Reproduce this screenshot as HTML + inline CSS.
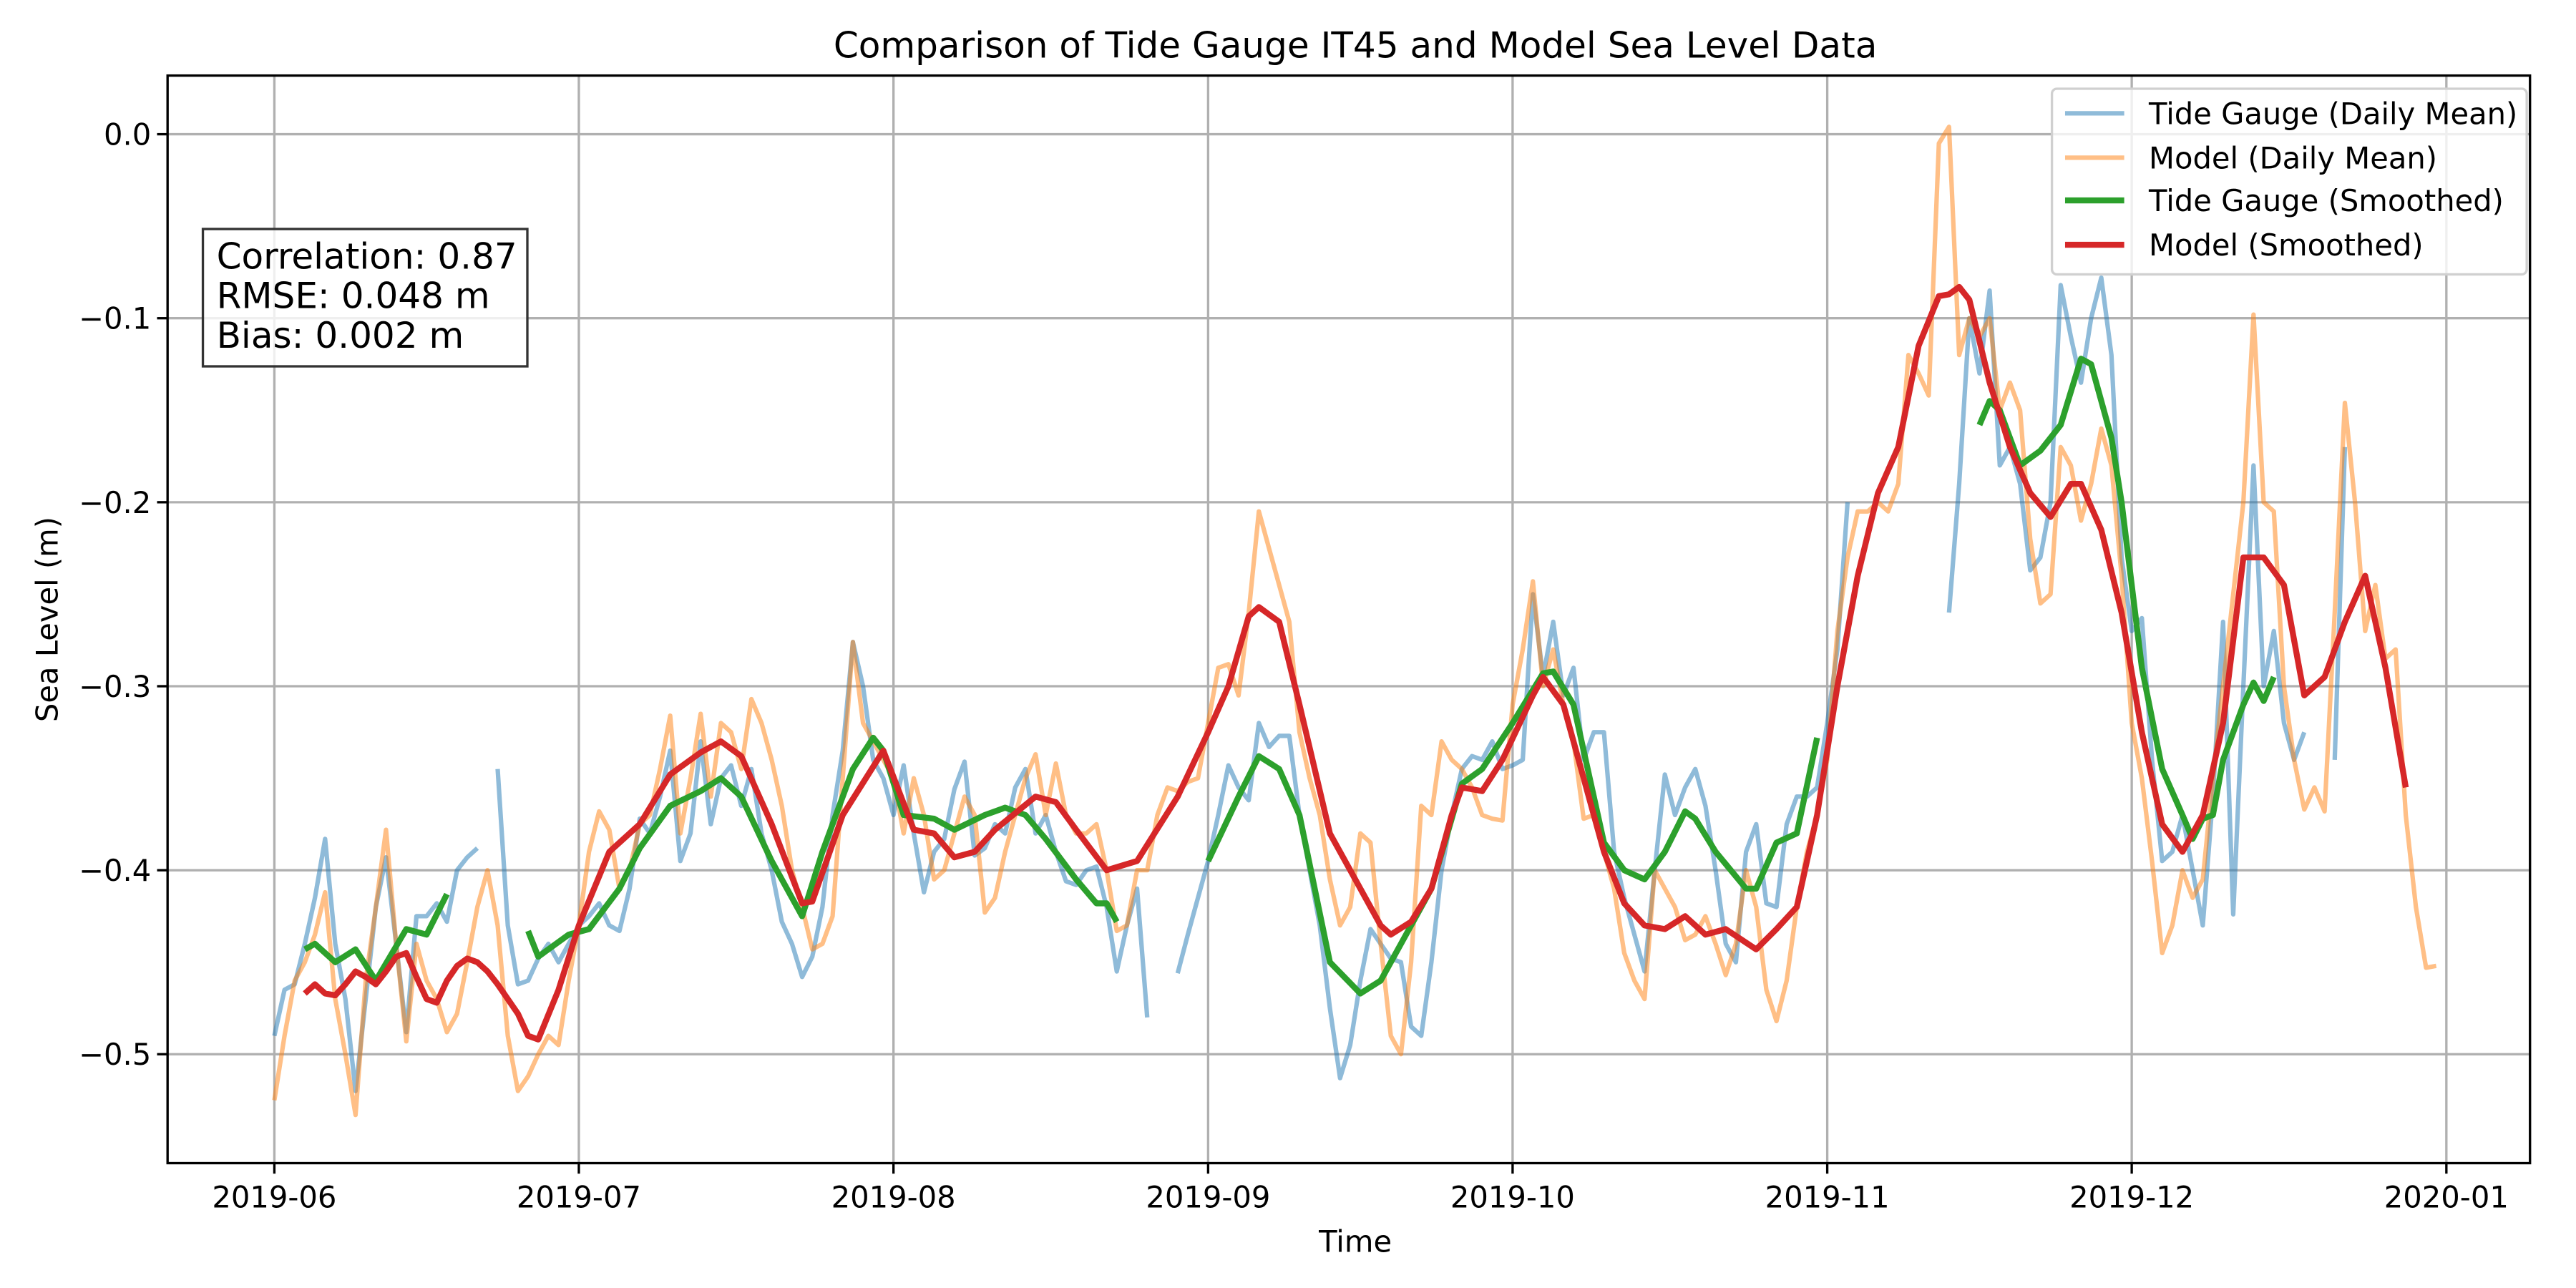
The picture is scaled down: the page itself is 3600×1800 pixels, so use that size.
<!DOCTYPE html>
<html><head><meta charset="utf-8"><title>Tide Gauge IT45 vs Model</title>
<style>html,body{margin:0;padding:0;background:#fff}svg{display:block}text{font-family:"DejaVu Sans","Liberation Sans",sans-serif;fill:#000}</style>
</head><body>
<svg id="chart" width="3600" height="1800" viewBox="0 0 1568 784" xmlns="http://www.w3.org/2000/svg">
<rect width="1568" height="784" fill="#fff"/>
<g id="grid"></g>
<g id="series"></g>
<rect x="102" y="46" width="1438" height="662" fill="none" stroke="#000" stroke-width="1.45"/>
<g id="ticks"></g>
<text x="825" y="35" font-size="21.8" text-anchor="middle">Comparison of Tide Gauge IT45 and Model Sea Level Data</text>
<text x="825" y="762" font-size="18.15" text-anchor="middle">Time</text>
<text x="0" y="0" font-size="18.15" text-anchor="middle" transform="translate(35,377) rotate(-90)">Sea Level (m)</text>
<g>
<rect x="123.5" y="139.4" width="197.5" height="83.6" fill="#fff" fill-opacity="0.8" stroke="#333" stroke-width="1.45"/>
<text x="131.8" y="163.5" font-size="21.8">Correlation: 0.87</text>
<text x="131.8" y="187.6" font-size="21.8">RMSE: 0.048 m</text>
<text x="131.8" y="211.6" font-size="21.8">Bias: 0.002 m</text>
</g>
<g>
<rect x="1249" y="54" width="289" height="113" rx="3" fill="#fff" fill-opacity="0.8" stroke="#d0d0d0" stroke-width="1.45"/>
<g><line x1="1257" y1="69" x2="1293" y2="69" stroke="#1f77b4" stroke-opacity="0.5" stroke-width="2.72"/><text x="1308" y="75.5" font-size="18.15">Tide Gauge (Daily Mean)</text></g>
<g><line x1="1257" y1="96" x2="1293" y2="96" stroke="#ff7f0e" stroke-opacity="0.5" stroke-width="2.72"/><text x="1308" y="102.5" font-size="18.15">Model (Daily Mean)</text></g>
<g><line x1="1257" y1="122" x2="1293" y2="122" stroke="#2ca02c" stroke-width="3.63"/><text x="1308" y="128.5" font-size="18.15">Tide Gauge (Smoothed)</text></g>
<g><line x1="1257" y1="149" x2="1293" y2="149" stroke="#d62728" stroke-width="3.63"/><text x="1308" y="155.5" font-size="18.15">Model (Smoothed)</text></g>
</g>
</svg>
<script>
// ---- data (day index 0 = 2019-06-01) ----
const xTickLabels = ["2019-06","2019-07","2019-08","2019-09","2019-10","2019-11","2019-12","2020-01"];
const xTickDays = [0,30,61,92,122,153,183,214];
const yTickValues = [0.0,-0.1,-0.2,-0.3,-0.4,-0.5];
const yTickLabels = ["0.0","\u22120.1","\u22120.2","\u22120.3","\u22120.4","\u22120.5"];

const tideDaily = [-0.49,-0.465,-0.462,-0.44,-0.415,-0.383,-0.44,-0.47,-0.52,-0.47,-0.42,-0.393,-0.44,-0.488,-0.425,-0.425,-0.418,-0.428,-0.40,-0.393,-0.388,
null,
-0.345,-0.43,-0.462,-0.46,-0.448,-0.44,-0.45,-0.44,-0.43,-0.425,-0.418,-0.43,-0.433,-0.41,-0.372,-0.38,-0.36,-0.335,-0.395,-0.38,-0.33,-0.375,-0.35,-0.343,-0.365,-0.345,-0.38,-0.40,-0.428,-0.44,-0.458,-0.447,-0.42,-0.37,-0.335,-0.276,-0.30,-0.34,-0.35,-0.37,-0.343,-0.38,-0.412,-0.39,-0.383,-0.356,-0.341,-0.392,-0.388,-0.375,-0.38,-0.355,-0.345,-0.38,-0.37,-0.39,-0.406,-0.408,-0.40,-0.398,-0.42,-0.455,-0.43,-0.41,-0.48,
null,null,
-0.456,-0.435,-0.415,-0.395,-0.37,-0.343,-0.355,-0.362,-0.32,-0.333,-0.327,-0.327,-0.37,-0.40,-0.43,-0.475,-0.513,-0.495,-0.46,-0.432,-0.44,-0.448,-0.45,-0.485,-0.49,-0.45,-0.40,-0.37,-0.345,-0.338,-0.34,-0.33,-0.345,-0.343,-0.34,-0.25,-0.295,-0.265,-0.305,-0.29,-0.34,-0.325,-0.325,-0.39,-0.415,-0.435,-0.455,-0.4,-0.348,-0.37,-0.355,-0.345,-0.365,-0.4,-0.44,-0.45,-0.39,-0.375,-0.418,-0.42,-0.375,-0.36,-0.36,-0.355,-0.32,-0.28,-0.2,
null,null,null,null,null,null,null,null,null,
-0.26,-0.19,-0.1,-0.13,-0.085,-0.18,-0.17,-0.19,-0.237,-0.23,-0.2,-0.082,-0.11,-0.135,-0.1,-0.078,-0.12,-0.23,-0.27,-0.263,-0.34,-0.395,-0.39,-0.37,-0.4,-0.43,-0.36,-0.265,-0.424,-0.3,-0.18,-0.3,-0.27,-0.32,-0.34,-0.325,
null,null,
-0.34,-0.17];

const modelDaily = [-0.525,-0.49,-0.46,-0.45,-0.435,-0.412,-0.47,-0.5,-0.533,-0.46,-0.42,-0.378,-0.44,-0.493,-0.44,-0.46,-0.47,-0.488,-0.478,-0.45,-0.42,-0.4,-0.43,-0.49,-0.52,-0.512,-0.5,-0.49,-0.495,-0.46,-0.43,-0.39,-0.368,-0.378,-0.41,-0.4,-0.375,-0.37,-0.345,-0.316,-0.38,-0.35,-0.315,-0.36,-0.32,-0.325,-0.345,-0.307,-0.32,
-0.34,-0.365,-0.4,-0.42,-0.443,-0.44,-0.425,-0.35,-0.276,-0.32,-0.33,-0.34,-0.35,-0.38,-0.35,-0.37,-0.405,-0.4,-0.38,-0.36,-0.37,-0.423,-0.415,-0.39,-0.37,-0.35,-0.337,-0.37,-0.342,-0.37,-0.38,-0.38,-0.375,-0.4,-0.433,-0.43,-0.4,-0.4,-0.37,-0.355,-0.357,-0.352,-0.35,-0.32,-0.29,-0.288,-0.305,-0.26,-0.205,-0.225,-0.245,-0.265,-0.325,-0.35,-0.37,-0.405,-0.43,-0.42,-0.38,-0.385,-0.44,-0.49,-0.5,-0.45,-0.365,-0.37,-0.33,-0.34,-0.345,-0.355,-0.37,-0.372,-0.373,-0.31,-0.28,-0.243,-0.3,-0.28,-0.31,-0.33,-0.372,-0.37,-0.39,-0.41,-0.445,-0.46,-0.47,-0.4,-0.41,-0.42,-0.438,-0.435,-0.425,-0.44,-0.457,-0.44,-0.4,-0.42,-0.465,-0.482,-0.46,-0.42,-0.39,-0.37,-0.34,-0.27,-0.23,-0.205,-0.205,-0.2,-0.205,-0.19,-0.12,-0.13,-0.142,-0.005,0.004,-0.12,-0.1,-0.11,-0.1,-0.15,-0.135,-0.15,-0.22,-0.255,-0.25,-0.17,-0.18,-0.21,-0.19,-0.16,-0.18,-0.24,-0.32,-0.35,-0.395,-0.445,-0.43,-0.4,-0.415,-0.405,-0.35,-0.3,-0.25,-0.2,-0.098,-0.2,-0.205,-0.3,-0.34,-0.367,-0.355,-0.368,-0.26,-0.146,-0.2,-0.27,-0.245,-0.285,-0.28,-0.37,-0.42,-0.453,-0.452];

const tideSmoothDays = [3,4,6,8,10,13,15,17,null,25,26,29,31,34,36,39,42,44,46,49,52,54,57,59,60,62,65,67,70,72,74,76,79,81,82,83,null,92,95,97,99,101,104,107,109,111,114,117,119,122,125,126,128,131,133,135,137,139,140,142,145,146,148,150,152,null,168,169,170,172,174,176,178,179,181,182,184,186,188,189,190,191,192,194,195,196,197];
const tideSmoothVals = [-0.443,-0.44,-0.45,-0.443,-0.46,-0.432,-0.435,-0.413,null,-0.433,-0.447,-0.435,-0.432,-0.41,-0.388,-0.365,-0.357,-0.35,-0.36,-0.395,-0.425,-0.39,-0.345,-0.328,-0.335,-0.37,-0.372,-0.378,-0.37,-0.366,-0.37,-0.383,-0.405,-0.418,-0.418,-0.428,null,-0.395,-0.36,-0.338,-0.345,-0.37,-0.45,-0.467,-0.46,-0.44,-0.41,-0.353,-0.345,-0.32,-0.293,-0.292,-0.31,-0.385,-0.4,-0.405,-0.39,-0.368,-0.372,-0.39,-0.41,-0.41,-0.385,-0.38,-0.328,null,-0.158,-0.145,-0.15,-0.18,-0.172,-0.158,-0.122,-0.125,-0.165,-0.2,-0.29,-0.345,-0.37,-0.383,-0.372,-0.37,-0.34,-0.31,-0.298,-0.308,-0.295];

const modelSmoothDays = [3,4,5,6,7,8,9,10,11,12,13,14,15,16,17,18,19,20,21,22,24,25,26,28,30,33,36,39,42,44,46,49,52,53,56,60,63,65,67,69,71,75,77,79,82,85,89,92,94,96,97,99,101,104,106,109,110,112,114,116,117,119,121,124,125,127,129,131,133,135,137,139,141,143,146,148,150,152,154,156,158,160,162,164,165,166,167,169,171,173,175,177,178,180,182,184,186,188,190,192,194,196,198,200,202,204,206,208,210];
const modelSmoothVals = [-0.467,-0.462,-0.467,-0.468,-0.462,-0.455,-0.458,-0.462,-0.455,-0.447,-0.445,-0.458,-0.47,-0.472,-0.46,-0.452,-0.448,-0.45,-0.455,-0.462,-0.478,-0.49,-0.492,-0.465,-0.43,-0.39,-0.375,-0.348,-0.336,-0.33,-0.338,-0.375,-0.418,-0.417,-0.37,-0.335,-0.378,-0.38,-0.393,-0.39,-0.378,-0.36,-0.363,-0.378,-0.4,-0.395,-0.36,-0.325,-0.3,-0.262,-0.257,-0.265,-0.31,-0.38,-0.4,-0.43,-0.435,-0.428,-0.41,-0.37,-0.355,-0.357,-0.34,-0.305,-0.295,-0.31,-0.35,-0.39,-0.418,-0.43,-0.432,-0.425,-0.435,-0.432,-0.443,-0.432,-0.42,-0.37,-0.3,-0.24,-0.195,-0.17,-0.115,-0.088,-0.087,-0.083,-0.09,-0.135,-0.17,-0.195,-0.208,-0.19,-0.19,-0.215,-0.26,-0.325,-0.375,-0.39,-0.37,-0.32,-0.23,-0.23,-0.245,-0.305,-0.295,-0.265,-0.24,-0.29,-0.355];

// ---- axes ----
const PX0 = 167, PXD = 6.178, PY0 = 81.7, PYS = 1120;
function xScale(d){ return PX0 + d*PXD; }
function yScale(v){ return PY0 - v*PYS; }
const NS = "http://www.w3.org/2000/svg";
function mk(tag, attrs, parent){ const e=document.createElementNS(NS,tag); for(const k in attrs) e.setAttribute(k,attrs[k]); parent.appendChild(e); return e; }

const grid = document.getElementById('grid');
const ticks = document.getElementById('ticks');
xTickDays.forEach((d,i)=>{
  const x = xScale(d);
  const gl = mk('line',{x1:x,x2:x,y1:46,y2:708,stroke:'#b0b0b0','stroke-width':1.45},grid);
  
  
  const tk = mk('line',{x1:x,x2:x,y1:708,y2:714.4,stroke:'#000','stroke-width':1.45},ticks);
  
  
  const t = mk('text',{x:x,y:735,'font-size':18.15,'text-anchor':'middle'},ticks);
  t.textContent = xTickLabels[i];
  
  
});
yTickValues.forEach((v,i)=>{
  const y = yScale(v);
  const gl = mk('line',{x1:102,x2:1540,y1:y,y2:y,stroke:'#b0b0b0','stroke-width':1.45},grid);
  
  
  const tk = mk('line',{x1:95.6,x2:102,y1:y,y2:y,stroke:'#000','stroke-width':1.45},ticks);
  
  
  const t = mk('text',{x:92,y:y+6.5,'font-size':18.15,'text-anchor':'end'},ticks);
  t.textContent = yTickLabels[i];
  
  
});

function pathFrom(days, vals){
  let d='', pen=false;
  for(let i=0;i<vals.length;i++){
    if(vals[i]===null || days[i]===null){ pen=false; continue; }
    d += (pen?'L':'M') + xScale(days[i]).toFixed(2) + ',' + yScale(vals[i]).toFixed(2);
    pen=true;
  }
  return d;
}
const series = document.getElementById('series');
const idx = a => a.map((_,i)=>i);
const p1 = mk('path',{d:pathFrom(idx(tideDaily),tideDaily),fill:'none',stroke:'#1f77b4','stroke-opacity':0.5,'stroke-width':2.72,'stroke-linejoin':'round'},series);


const p2 = mk('path',{d:pathFrom(idx(modelDaily),modelDaily),fill:'none',stroke:'#ff7f0e','stroke-opacity':0.5,'stroke-width':2.72,'stroke-linejoin':'round'},series);


const p3 = mk('path',{d:pathFrom(tideSmoothDays,tideSmoothVals),fill:'none',stroke:'#2ca02c','stroke-width':3.63,'stroke-linejoin':'round'},series);


const p4 = mk('path',{d:pathFrom(modelSmoothDays,modelSmoothVals),fill:'none',stroke:'#d62728','stroke-width':3.63,'stroke-linejoin':'round'},series);


</script>
</body></html>
